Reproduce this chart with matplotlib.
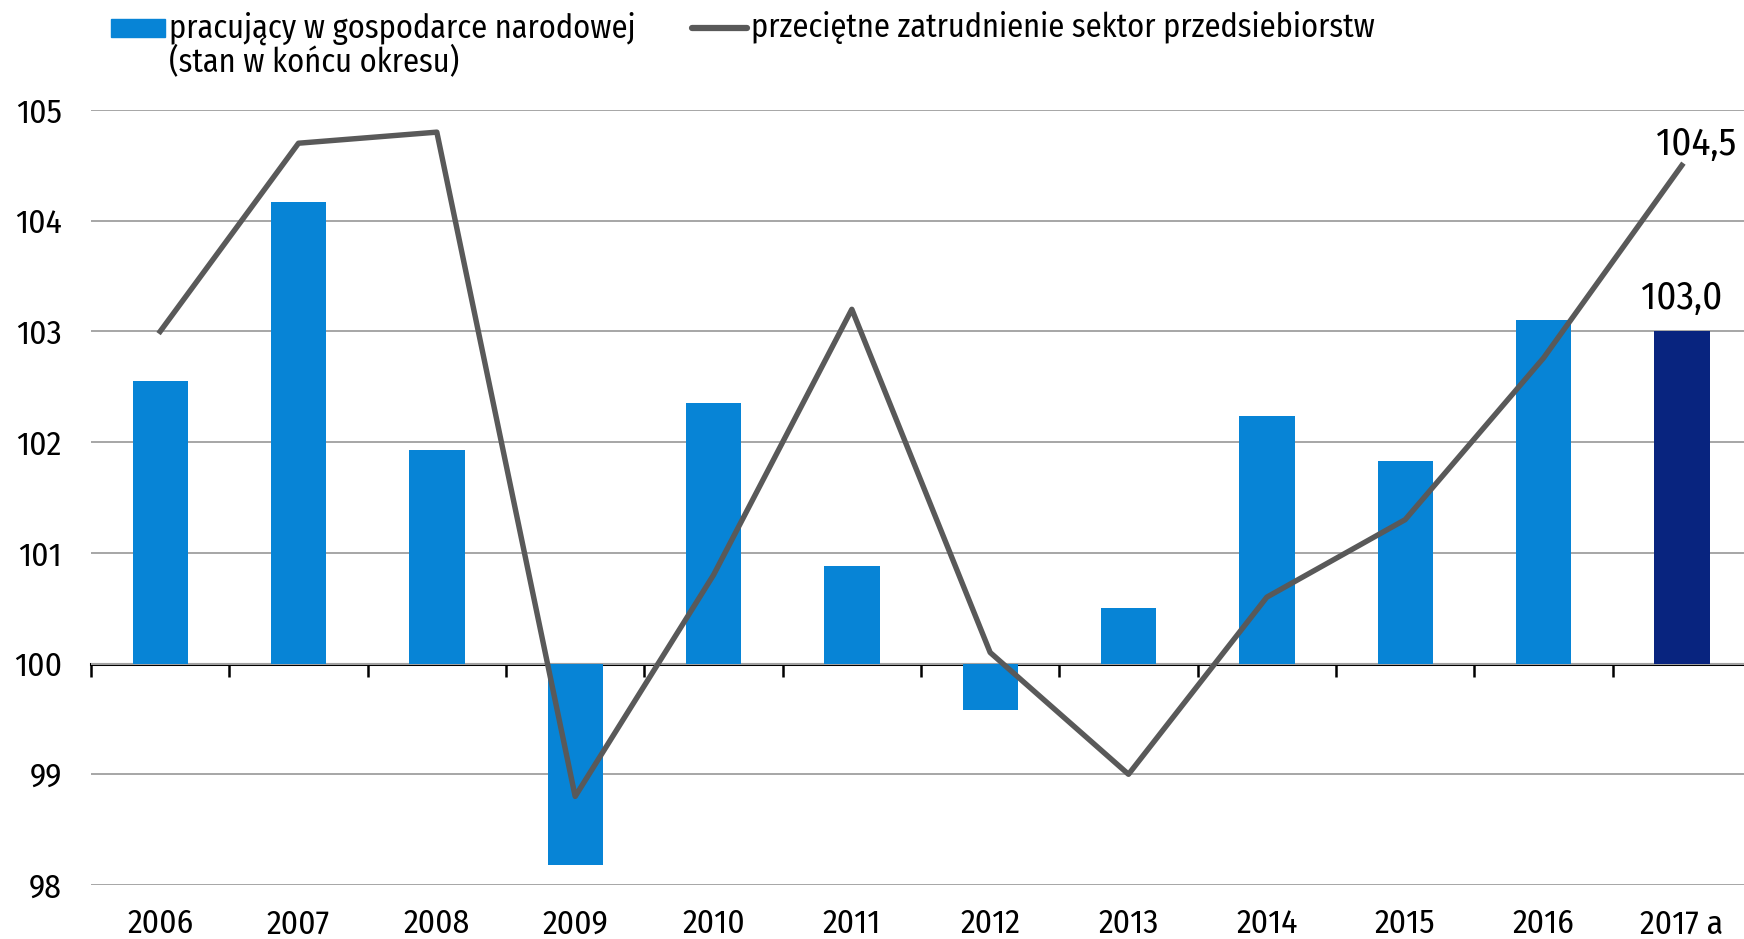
import numpy as np
import matplotlib.pyplot as plt
from matplotlib.patches import Rectangle
from matplotlib.lines import Line2D

plt.rcParams['font.family'] = ['Fira Sans Condensed', 'DejaVu Sans']

# dane
lata = ['2006', '2007', '2008', '2009', '2010', '2011',
        '2012', '2013', '2014', '2015', '2016', '2017 a']
pracujacy = [102.55, 104.17, 101.93, 98.18, 102.35, 100.88,
             99.58, 100.50, 102.24, 101.83, 103.10, 103.0]
zatrudnienie = [103.0, 104.7, 104.8, 98.8, 100.8, 103.2,
                100.1, 99.0, 100.6, 101.3, 102.76, 104.5]
y_ticks = [98, 99, 100, 101, 102, 103, 104, 105]

label_bar = ['pracujący w gospodarce narodowej', '(stan w końcu okresu)']
label_line = 'przeciętne zatrudnienie sektor przedsiebiorstw'

niebieski = '#0784D6'
granat = '#08247F'
szary = '#595959'

W, H = 1744, 939
fig = plt.figure(figsize=(W / 100, H / 100), dpi=100)
ax = fig.add_axes([91 / W, 1 - 885 / H, 1660 / W, 775 / H])

x = np.arange(len(lata))
kolory = [niebieski] * (len(lata) - 1) + [granat]
wys = np.array(pracujacy) - 100
ax.bar(x, wys, bottom=100, width=0.40, color=kolory, zorder=2)
ax.plot(x, zatrudnienie, color=szary, lw=3.9, zorder=3)

ax.set_xlim(-0.5, len(lata) - 0.5)
ax.set_ylim(98, 105)
ax.set_yticks(y_ticks)
ax.set_yticklabels([str(v) for v in y_ticks], fontsize=24)
ax.set_xticks(x)
ax.set_xticklabels(lata, fontsize=24)
ax.tick_params(axis='y', length=0, pad=21)
ax.tick_params(axis='x', length=0, pad=16.5)
for s in ax.spines.values():
    s.set_visible(False)
ax.grid(axis='y', color='#A6A6A6', lw=1.4, zorder=0)
ax.set_axisbelow(True)

# os na poziomie 100
sec = ax.secondary_xaxis(2 / 7)
sec.set_xticks(np.arange(-0.5, len(lata), 1.0))
sec.set_xticklabels([])
sec.tick_params(axis='x', direction='out', length=9, width=1.8, color='black')
sec.spines['bottom'].set_linewidth(2.2)
sec.spines['bottom'].set_color('black')

# etykiety 2017
ax.annotate('104,5', (x[-1], zatrudnienie[-1]), xytext=(10, 15),
            textcoords='offset points', ha='center', va='center', fontsize=28)
ax.annotate('103,0', (x[-1], pracujacy[-1]), xytext=(0, 24),
            textcoords='offset points', ha='center', va='center', fontsize=28)

# legenda
fig.add_artist(Rectangle((111 / W, 1 - 37 / H), 54 / W, 18 / H,
                         transform=fig.transFigure, color=niebieski))
fig.text(169 / W, 1 - 28 / H, label_bar[0], fontsize=23.3, va='center', ha='left')
fig.text(169 / W, 1 - 62 / H, label_bar[1], fontsize=23.3, va='center', ha='left')
fig.add_artist(Line2D([692 / W, 747 / W], [1 - 28 / H, 1 - 28 / H],
                      transform=fig.transFigure, color=szary, lw=4.5,
                      solid_capstyle='round'))
fig.text(751 / W, 1 - 28 / H, label_line, fontsize=23.3, va='center', ha='left')

fig.savefig('out.png', dpi=100)
